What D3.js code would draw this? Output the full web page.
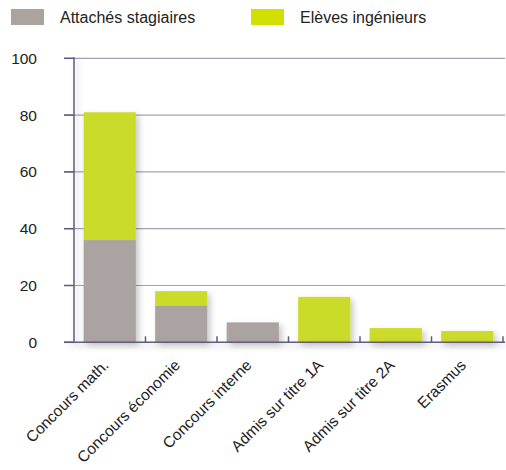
<!DOCTYPE html>
<html><head><meta charset="utf-8">
<script src="https://cdn.jsdelivr.net/npm/d3@7"></script>
<style>body{margin:0;background:#fff}svg{display:block;font-family:"Liberation Sans",Arial,sans-serif}</style>
</head><body><svg id="c" width="506" height="470"></svg>
<script>
const categories = ["Concours math.","Concours économie","Concours interne","Admis sur titre 1A","Admis sur titre 2A","Erasmus"];
const attaches = [36,13,7,0,0,0];
const eleves = [45,5,0,16,5,4];
const seriesNames = ["Attachés stagiaires","Elèves ingénieurs"];
const seriesColors = ["#aaa3a1","#cadb29"];
const legendColors = ["#aba49d","#d2e000"];
const yTicks = [0,20,40,60,80,100];

const svg = d3.select("#c");
const x = d3.scaleBand().domain(categories).range([74,503]).paddingInner(0.27).paddingOuter(0.135);
const y = d3.scaleLinear().domain([0,100]).range([342.3,58.3]);

const defs = svg.append("defs");
const f = defs.append("filter").attr("id","sh").attr("x","-20%").attr("y","-20%").attr("width","160%").attr("height","160%");
f.append("feDropShadow").attr("dx",3).attr("dy",3).attr("stdDeviation",3).attr("flood-color","#000").attr("flood-opacity",0.22);

// gridlines
svg.append("g").selectAll("line").data(yTicks.filter(d=>d>0)).join("line")
  .attr("x1",64).attr("x2",505).attr("y1",d=>y(d)).attr("y2",d=>y(d))
  .attr("stroke","#a3a1b9").attr("stroke-width",1.2);
// tick stubs on left
svg.append("g").selectAll("line").data(yTicks).join("line")
  .attr("x1",64).attr("x2",74).attr("y1",d=>y(d)).attr("y2",d=>y(d))
  .attr("stroke","#5f5d7c").attr("stroke-width",1.5);
// y labels
svg.append("g").selectAll("text").data(yTicks).join("text")
  .attr("x",37).attr("y",d=>y(d)).attr("dy","0.35em").attr("text-anchor","end")
  .attr("font-size",15.5).attr("fill","#222").text(d=>d);

// stacked bars
const stackData = categories.map((c,i)=>({cat:c,a:attaches[i],e:eleves[i]}));
const stack = d3.stack().keys(["a","e"])(stackData);
const bars = svg.append("g").attr("filter","url(#sh)");
stack.forEach((s,k)=>{
  bars.selectAll(null).data(s.filter(d=>d[1]>d[0])).join("rect")
    .attr("x",d=>x(d.data.cat)).attr("width",x.bandwidth())
    .attr("y",d=>y(d[1])).attr("height",d=>y(d[0])-y(d[1]))
    .attr("fill",seriesColors[k]);
});

// axes lines
const axisG = svg.append("g").attr("filter","url(#sh)");
axisG.append("line").attr("x1",74).attr("x2",74).attr("y1",y(100)-1).attr("y2",y(0)).attr("stroke","#5f5d7c").attr("stroke-width",1.5);
axisG.append("line").attr("x1",64).attr("x2",505).attr("y1",y(0)).attr("y2",y(0)).attr("stroke","#5f5d7c").attr("stroke-width",1.5);
// x tick stubs (upwards)
const bounds = categories.map(c=>x(c)-x.step()*x.paddingInner()/2).slice(1).concat([503]);
svg.append("g").selectAll("line").data(bounds).join("line")
  .attr("x1",d=>d).attr("x2",d=>d).attr("y1",y(0)).attr("y2",y(0)-6)
  .attr("stroke","#5f5d7c").attr("stroke-width",1.5);

// x labels
svg.append("g").selectAll("text").data(categories).join("text")
  .attr("transform",c=>`translate(${x(c)+x.bandwidth()/2-4},${y(0)+20}) rotate(-45)`)
  .attr("text-anchor","end").attr("dy","0.35em")
  .attr("font-size",15.5).attr("fill","#222").text(c=>c);

// legend
const lg = svg.append("g");
const lx = [11,251];
seriesNames.forEach((n,i)=>{
  lg.append("rect").attr("x",lx[i]).attr("y",9).attr("width",33).attr("height",16).attr("fill",legendColors[i]);
  lg.append("text").attr("x",lx[i]+49).attr("y",17).attr("dy","0.35em").attr("font-size",16).attr("fill","#222").text(n);
});
</script></body></html>
